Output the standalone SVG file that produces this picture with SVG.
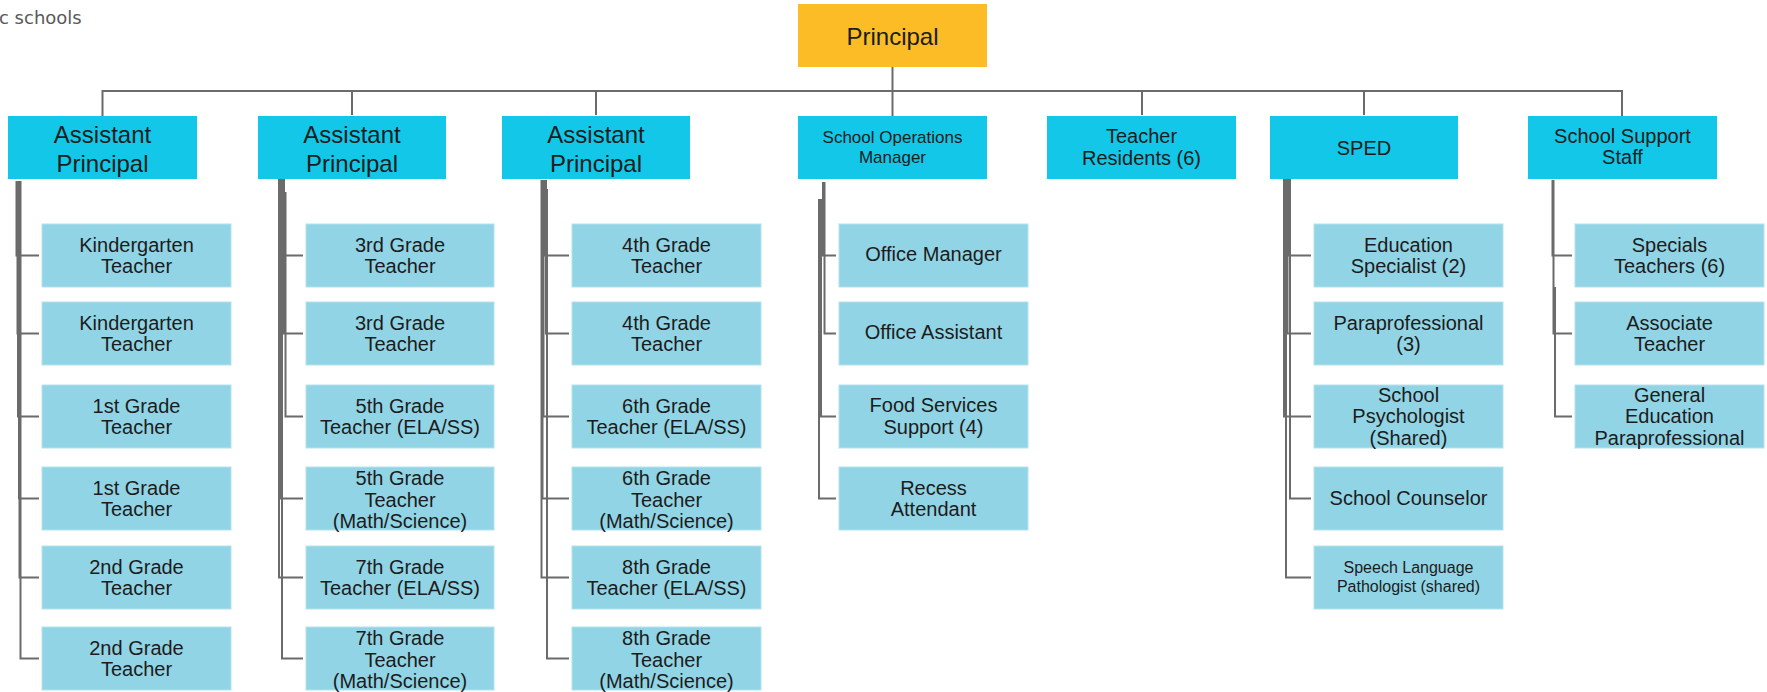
<svg xmlns="http://www.w3.org/2000/svg" width="1767" height="692" viewBox="0 0 1767 692">
<style>
  .bg{fill:#ffffff}
  .top{fill:#FBBC26}
  .l1{fill:#12C7E7}
  .ch{fill:#91D4E5;stroke:#B4E3EE;stroke-width:1}
  text{font-family:"Liberation Sans",Arial,sans-serif;fill:#1c1c1c;text-anchor:middle}
  .t24{font-size:24px}
  .t20{font-size:20px}
  .t17{font-size:17px}
  .t16{font-size:16px}
  .hdr{font-family:"DejaVu Sans",sans-serif;font-size:18px;fill:#595959;text-anchor:start}
  .cn{fill:none;stroke:#6b6b6b;stroke-width:2}
</style>
<rect class="bg" x="0" y="0" width="1767" height="692"/>
<text class="hdr" x="-1" y="24">c schools</text>

<g id="connectors" class="cn">
  <path d="M892.5 67 V116"/>
  <path d="M102.5 116 V91 H1622 V116"/>
  <path d="M352 91 V115"/>
  <path d="M596 91 V115"/>
  <path d="M1142 91 V115"/>
  <path d="M1364 91 V115"/>
  <!-- col1 -->
  <path d="M16.5 181 V255.5 H39"/>
  <path d="M17.5 181 V333.5 H39"/>
  <path d="M18 181 V416.5 H39"/>
  <path d="M19 197 V498.5 H39"/>
  <path d="M19.5 181 V577.5 H39"/>
  <path d="M20.5 181 V658.5 H39"/>
  <!-- col2 -->
  <path d="M283 172 V255.5 H303"/>
  <path d="M284 172 V333.5 H303"/>
  <path d="M285.5 192 V416.5 H303"/>
  <path d="M280 172 V498.5 H303"/>
  <path d="M279 172 V577.5 H303"/>
  <path d="M282 172 V658.5 H303"/>
  <!-- col3 -->
  <path d="M545 180 V255.5 H569"/>
  <path d="M546 180 V333.5 H569"/>
  <path d="M543.5 180 V416.5 H569"/>
  <path d="M542.5 180 V498.5 H569"/>
  <path d="M541.5 180 V577.5 H569"/>
  <path d="M547 189 V658.5 H569"/>
  <!-- col4 -->
  <path d="M823 182 V255.5 H836"/>
  <path d="M824.5 182 V333.5 H836"/>
  <path d="M821 199 V416.5 H836"/>
  <path d="M819 199 V498.5 H836"/>
  <!-- col6 -->
  <path d="M1289 177 V255.5 H1311"/>
  <path d="M1287.5 177 V333.5 H1311"/>
  <path d="M1284 177 V416.5 H1311"/>
  <path d="M1290 177 V498.5 H1311"/>
  <path d="M1286 177 V577.5 H1311"/>
  <!-- col7 -->
  <path d="M1552.5 180 V255.5 H1572"/>
  <path d="M1553.5 180 V333.5 H1572"/>
  <path d="M1555 287 V416.5 H1572"/>
</g>

<g id="principal"><rect class="top" x="798" y="4" width="189" height="63"/><text class="t24" x="892.5" y="45">Principal</text></g>

<g id="ap1"><rect class="l1" x="8" y="116" width="189" height="63"/><text class="t24" x="102.5" y="143">Assistant</text><text class="t24" x="102.5" y="172">Principal</text></g>
<g id="ap2"><rect class="l1" x="258" y="116" width="188" height="63"/><text class="t24" x="352" y="143">Assistant</text><text class="t24" x="352" y="172">Principal</text></g>
<g id="ap3"><rect class="l1" x="502" y="116" width="188" height="63"/><text class="t24" x="596" y="143">Assistant</text><text class="t24" x="596" y="172">Principal</text></g>
<g id="som"><rect class="l1" x="798" y="116" width="189" height="63"/><text class="t17" x="892.5" y="143">School Operations</text><text class="t17" x="892.5" y="163">Manager</text></g>
<g id="tr"><rect class="l1" x="1047" y="116" width="189" height="63"/><text class="t20" x="1141.5" y="143">Teacher</text><text class="t20" x="1141.5" y="165">Residents (6)</text></g>
<g id="sped"><rect class="l1" x="1270" y="116" width="188" height="63"/><text class="t20" x="1364" y="155">SPED</text></g>
<g id="sss"><rect class="l1" x="1528" y="116" width="189" height="63"/><text class="t20" x="1622.5" y="143">School Support</text><text class="t20" x="1622.5" y="164">Staff</text></g>

<!-- col1 -->
<g id="k1"><rect class="ch" x="42" y="224" width="189" height="63"/><text class="t20" x="136.5" y="251.5">Kindergarten</text><text class="t20" x="136.5" y="273">Teacher</text></g>
<g id="k2"><rect class="ch" x="42" y="302" width="189" height="63"/><text class="t20" x="136.5" y="329.5">Kindergarten</text><text class="t20" x="136.5" y="351">Teacher</text></g>
<g id="g1a"><rect class="ch" x="42" y="385" width="189" height="63"/><text class="t20" x="136.5" y="412.5">1st Grade</text><text class="t20" x="136.5" y="434">Teacher</text></g>
<g id="g1b"><rect class="ch" x="42" y="467" width="189" height="63"/><text class="t20" x="136.5" y="494.5">1st Grade</text><text class="t20" x="136.5" y="516">Teacher</text></g>
<g id="g2a"><rect class="ch" x="42" y="546" width="189" height="63"/><text class="t20" x="136.5" y="573.5">2nd Grade</text><text class="t20" x="136.5" y="595">Teacher</text></g>
<g id="g2b"><rect class="ch" x="42" y="627" width="189" height="63"/><text class="t20" x="136.5" y="654.5">2nd Grade</text><text class="t20" x="136.5" y="676">Teacher</text></g>

<!-- col2 -->
<g id="g3a"><rect class="ch" x="306" y="224" width="188" height="63"/><text class="t20" x="400" y="251.5">3rd Grade</text><text class="t20" x="400" y="273">Teacher</text></g>
<g id="g3b"><rect class="ch" x="306" y="302" width="188" height="63"/><text class="t20" x="400" y="329.5">3rd Grade</text><text class="t20" x="400" y="351">Teacher</text></g>
<g id="g5e"><rect class="ch" x="306" y="385" width="188" height="63"/><text class="t20" x="400" y="412.5">5th Grade</text><text class="t20" x="400" y="434">Teacher (ELA/SS)</text></g>
<g id="g5m"><rect class="ch" x="306" y="467" width="188" height="63"/><text class="t20" x="400" y="485">5th Grade</text><text class="t20" x="400" y="506.5">Teacher</text><text class="t20" x="400" y="528">(Math/Science)</text></g>
<g id="g7e"><rect class="ch" x="306" y="546" width="188" height="63"/><text class="t20" x="400" y="573.5">7th Grade</text><text class="t20" x="400" y="595">Teacher (ELA/SS)</text></g>
<g id="g7m"><rect class="ch" x="306" y="627" width="188" height="63"/><text class="t20" x="400" y="645">7th Grade</text><text class="t20" x="400" y="666.5">Teacher</text><text class="t20" x="400" y="688">(Math/Science)</text></g>

<!-- col3 -->
<g id="g4a"><rect class="ch" x="572" y="224" width="189" height="63"/><text class="t20" x="666.5" y="251.5">4th Grade</text><text class="t20" x="666.5" y="273">Teacher</text></g>
<g id="g4b"><rect class="ch" x="572" y="302" width="189" height="63"/><text class="t20" x="666.5" y="329.5">4th Grade</text><text class="t20" x="666.5" y="351">Teacher</text></g>
<g id="g6e"><rect class="ch" x="572" y="385" width="189" height="63"/><text class="t20" x="666.5" y="412.5">6th Grade</text><text class="t20" x="666.5" y="434">Teacher (ELA/SS)</text></g>
<g id="g6m"><rect class="ch" x="572" y="467" width="189" height="63"/><text class="t20" x="666.5" y="485">6th Grade</text><text class="t20" x="666.5" y="506.5">Teacher</text><text class="t20" x="666.5" y="528">(Math/Science)</text></g>
<g id="g8e"><rect class="ch" x="572" y="546" width="189" height="63"/><text class="t20" x="666.5" y="573.5">8th Grade</text><text class="t20" x="666.5" y="595">Teacher (ELA/SS)</text></g>
<g id="g8m"><rect class="ch" x="572" y="627" width="189" height="63"/><text class="t20" x="666.5" y="645">8th Grade</text><text class="t20" x="666.5" y="666.5">Teacher</text><text class="t20" x="666.5" y="688">(Math/Science)</text></g>

<!-- col4 -->
<g id="om"><rect class="ch" x="839" y="224" width="189" height="63"/><text class="t20" x="933.5" y="261">Office Manager</text></g>
<g id="oa"><rect class="ch" x="839" y="302" width="189" height="63"/><text class="t20" x="933.5" y="339">Office Assistant</text></g>
<g id="fs"><rect class="ch" x="839" y="385" width="189" height="63"/><text class="t20" x="933.5" y="412">Food Services</text><text class="t20" x="933.5" y="433.5">Support (4)</text></g>
<g id="ra"><rect class="ch" x="839" y="467" width="189" height="63"/><text class="t20" x="933.5" y="494.5">Recess</text><text class="t20" x="933.5" y="516">Attendant</text></g>

<!-- col6 -->
<g id="es"><rect class="ch" x="1314" y="224" width="189" height="63"/><text class="t20" x="1408.5" y="251.5">Education</text><text class="t20" x="1408.5" y="273">Specialist (2)</text></g>
<g id="pp"><rect class="ch" x="1314" y="302" width="189" height="63"/><text class="t20" x="1408.5" y="329.5">Paraprofessional</text><text class="t20" x="1408.5" y="351">(3)</text></g>
<g id="sp"><rect class="ch" x="1314" y="385" width="189" height="63"/><text class="t20" x="1408.5" y="401.5">School</text><text class="t20" x="1408.5" y="423">Psychologist</text><text class="t20" x="1408.5" y="444.5">(Shared)</text></g>
<g id="sc"><rect class="ch" x="1314" y="467" width="189" height="63"/><text class="t20" x="1408.5" y="505">School Counselor</text></g>
<g id="slp"><rect class="ch" x="1314" y="546" width="189" height="63"/><text class="t16" x="1408.5" y="572.5">Speech Language</text><text class="t16" x="1408.5" y="592">Pathologist (shared)</text></g>

<!-- col7 -->
<g id="spt"><rect class="ch" x="1575" y="224" width="189" height="63"/><text class="t20" x="1669.5" y="251.5">Specials</text><text class="t20" x="1669.5" y="273">Teachers (6)</text></g>
<g id="at"><rect class="ch" x="1575" y="302" width="189" height="63"/><text class="t20" x="1669.5" y="329.5">Associate</text><text class="t20" x="1669.5" y="351">Teacher</text></g>
<g id="gep"><rect class="ch" x="1575" y="385" width="189" height="63"/><text class="t20" x="1669.5" y="401.5">General</text><text class="t20" x="1669.5" y="423">Education</text><text class="t20" x="1669.5" y="444.5">Paraprofessional</text></g>
</svg>
